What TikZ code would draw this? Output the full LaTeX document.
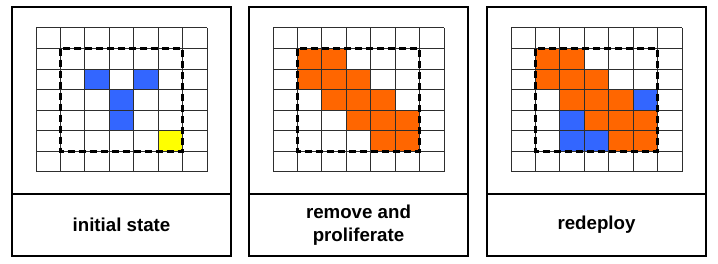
\documentclass[tikz,border=0pt]{standalone}
\usepackage{fontspec}
\setmainfont{Liberation Sans}
\usetikzlibrary{positioning}
\definecolor{GBlue}{HTML}{3366FF}
\definecolor{GOrange}{HTML}{FF6600}
\definecolor{GYellow}{HTML}{FFFF00}
\definecolor{GLine}{HTML}{2E2E2E}

\begin{document}
\begin{tikzpicture}[x=1pt,y=1pt,
    pane/.style={draw=black,line width=2.2pt,outer sep=0pt,inner sep=0pt,minimum width=219pt,minimum height=186.4pt},
    caption/.style={draw=black,line width=2.2pt,outer sep=0pt,inner sep=0pt,minimum width=219pt,minimum height=62.4pt,align=center,font=\fontsize{18.7}{23}\selectfont\bfseries},
    gridline/.style={GLine,line width=1pt},
    region/.style={black,line width=2.2pt,dash pattern=on 7pt off 4pt}]
    \useasboundingbox (0,0) rectangle (718,263);

    \node[pane,anchor=north west] (pane1) at (12,255.7) {};
    \node[pane,right=18pt of pane1] (pane2) {};
    \node[pane,right=19pt of pane2] (pane3) {};
    \node[caption,below=0pt of pane1] (cap1) {initial state};
    \node[caption,below=0pt of pane2] (cap2) {remove and\\proliferate};
    \node[caption,below=0pt of pane3] (cap3) {redeploy};

    % initial state
    \begin{scope}[shift={(36pt,235pt)},x=24.43pt,y=-20.57pt]
      \foreach \c/\r in {2/2,4/2,3/3,3/4}
        \fill[GBlue] (\c,\r) rectangle ++(1,1);
      \fill[GYellow] (5,5) rectangle ++(1,1);
      \foreach \i in {0,...,7} {
        \draw[gridline] (\i,0) -- (\i,7);
        \draw[gridline] (0,\i) -- (7,\i);
      }
      \draw[region] (1,1) rectangle (6,6);
    \end{scope}

    % remove and proliferate
    \begin{scope}[shift={(273pt,235pt)},x=24.43pt,y=-20.57pt]
      \foreach \c/\r in {1/1,2/1,1/2,2/2,3/2,2/3,3/3,4/3,3/4,4/4,5/4,4/5,5/5}
        \fill[GOrange] (\c,\r) rectangle ++(1,1);
      \foreach \i in {0,...,7} {
        \draw[gridline] (\i,0) -- (\i,7);
        \draw[gridline] (0,\i) -- (7,\i);
      }
      \draw[region] (1,1) rectangle (6,6);
    \end{scope}

    % redeploy
    \begin{scope}[shift={(511pt,235pt)},x=24.43pt,y=-20.57pt]
      \foreach \c/\r in {1/1,2/1,1/2,2/2,3/2,2/3,3/3,4/3,3/4,4/4,5/4,4/5,5/5}
        \fill[GOrange] (\c,\r) rectangle ++(1,1);
      \foreach \c/\r in {5/3,2/4,2/5,3/5}
        \fill[GBlue] (\c,\r) rectangle ++(1,1);
      \foreach \i in {0,...,7} {
        \draw[gridline] (\i,0) -- (\i,7);
        \draw[gridline] (0,\i) -- (7,\i);
      }
      \draw[region] (1,1) rectangle (6,6);
    \end{scope}
\end{tikzpicture}
\end{document}
